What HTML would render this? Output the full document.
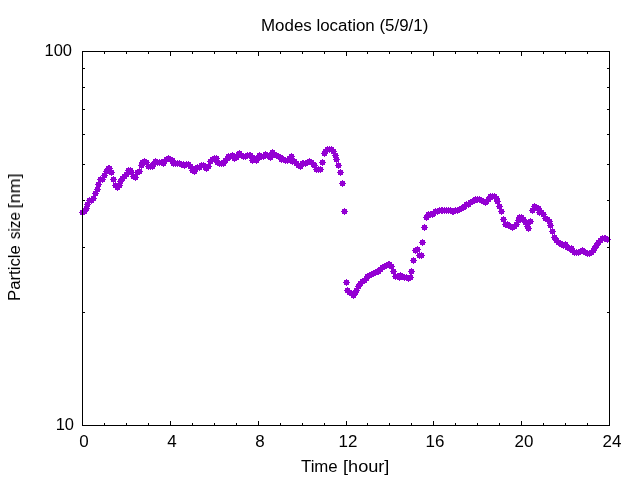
<!DOCTYPE html>
<html><head><meta charset="utf-8"><title>Modes location</title>
<style>
html,body{margin:0;padding:0;background:#fff;}
body{width:640px;height:480px;position:relative;overflow:hidden;font-family:"Liberation Sans",sans-serif;}
#f div{position:absolute;}
.t{position:absolute;font-size:16px;line-height:18px;color:#000;white-space:nowrap;will-change:transform;-webkit-font-smoothing:antialiased;}
.xt{width:60px;text-align:center;transform:scaleX(1.06);}
.yt{transform-origin:100% 0;transform:scaleX(1.03);}
</style></head><body>
<svg width="640" height="480" viewBox="0 0 640 480" shape-rendering="crispEdges" style="position:absolute;left:0;top:0"><path fill="#9400D3" d="M80 210h5v5h-5zM79 212h7v1h-7zM82 209h1v7h-1zM82 209h5v5h-5zM81 211h7v1h-7zM84 208h1v7h-1zM84 206h5v5h-5zM83 208h7v1h-7zM86 205h1v7h-1zM85 202h5v5h-5zM84 204h7v1h-7zM87 201h1v7h-1zM87 198h5v5h-5zM86 200h7v1h-7zM89 197h1v7h-1zM89 198h5v5h-5zM88 200h7v1h-7zM91 197h1v7h-1zM91 196h5v5h-5zM90 198h7v1h-7zM93 195h1v7h-1zM93 191h5v5h-5zM92 193h7v1h-7zM95 190h1v7h-1zM95 187h5v5h-5zM94 189h7v1h-7zM97 186h1v7h-1zM96 182h5v5h-5zM95 184h7v1h-7zM98 181h1v7h-1zM98 177h5v5h-5zM97 179h7v1h-7zM100 176h1v7h-1zM100 177h5v5h-5zM99 179h7v1h-7zM102 176h1v7h-1zM102 173h5v5h-5zM101 175h7v1h-7zM104 172h1v7h-1zM104 169h5v5h-5zM103 171h7v1h-7zM106 168h1v7h-1zM106 166h5v5h-5zM105 168h7v1h-7zM108 165h1v7h-1zM107 166h5v5h-5zM106 168h7v1h-7zM109 165h1v7h-1zM109 170h5v5h-5zM108 172h7v1h-7zM111 169h1v7h-1zM111 177h5v5h-5zM110 179h7v1h-7zM113 176h1v7h-1zM113 183h5v5h-5zM112 185h7v1h-7zM115 182h1v7h-1zM115 185h5v5h-5zM114 187h7v1h-7zM117 184h1v7h-1zM117 183h5v5h-5zM116 185h7v1h-7zM119 182h1v7h-1zM118 179h5v5h-5zM117 181h7v1h-7zM120 178h1v7h-1zM120 176h5v5h-5zM119 178h7v1h-7zM122 175h1v7h-1zM122 174h5v5h-5zM121 176h7v1h-7zM124 173h1v7h-1zM124 172h5v5h-5zM123 174h7v1h-7zM126 171h1v7h-1zM126 168h5v5h-5zM125 170h7v1h-7zM128 167h1v7h-1zM128 168h5v5h-5zM127 170h7v1h-7zM130 167h1v7h-1zM129 170h5v5h-5zM128 172h7v1h-7zM131 169h1v7h-1zM131 174h5v5h-5zM130 176h7v1h-7zM133 173h1v7h-1zM133 175h5v5h-5zM132 177h7v1h-7zM135 174h1v7h-1zM135 170h5v5h-5zM134 172h7v1h-7zM137 169h1v7h-1zM137 169h5v5h-5zM136 171h7v1h-7zM139 168h1v7h-1zM139 163h5v5h-5zM138 165h7v1h-7zM141 162h1v7h-1zM140 160h5v5h-5zM139 162h7v1h-7zM142 159h1v7h-1zM142 159h5v5h-5zM141 161h7v1h-7zM144 158h1v7h-1zM144 160h5v5h-5zM143 162h7v1h-7zM146 159h1v7h-1zM146 164h5v5h-5zM145 166h7v1h-7zM148 163h1v7h-1zM148 164h5v5h-5zM147 166h7v1h-7zM150 163h1v7h-1zM150 164h5v5h-5zM149 166h7v1h-7zM152 163h1v7h-1zM151 162h5v5h-5zM150 164h7v1h-7zM153 161h1v7h-1zM153 159h5v5h-5zM152 161h7v1h-7zM155 158h1v7h-1zM155 160h5v5h-5zM154 162h7v1h-7zM157 159h1v7h-1zM157 160h5v5h-5zM156 162h7v1h-7zM159 159h1v7h-1zM159 160h5v5h-5zM158 162h7v1h-7zM161 159h1v7h-1zM161 161h5v5h-5zM160 163h7v1h-7zM163 160h1v7h-1zM162 159h5v5h-5zM161 161h7v1h-7zM164 158h1v7h-1zM164 157h5v5h-5zM163 159h7v1h-7zM166 156h1v7h-1zM166 156h5v5h-5zM165 158h7v1h-7zM168 155h1v7h-1zM168 157h5v5h-5zM167 159h7v1h-7zM170 156h1v7h-1zM170 158h5v5h-5zM169 160h7v1h-7zM172 157h1v7h-1zM171 161h5v5h-5zM170 163h7v1h-7zM173 160h1v7h-1zM173 161h5v5h-5zM172 163h7v1h-7zM175 160h1v7h-1zM175 161h5v5h-5zM174 163h7v1h-7zM177 160h1v7h-1zM177 161h5v5h-5zM176 163h7v1h-7zM179 160h1v7h-1zM179 162h5v5h-5zM178 164h7v1h-7zM181 161h1v7h-1zM181 162h5v5h-5zM180 164h7v1h-7zM183 161h1v7h-1zM182 163h5v5h-5zM181 165h7v1h-7zM184 162h1v7h-1zM184 162h5v5h-5zM183 164h7v1h-7zM186 161h1v7h-1zM186 162h5v5h-5zM185 164h7v1h-7zM188 161h1v7h-1zM188 164h5v5h-5zM187 166h7v1h-7zM190 163h1v7h-1zM190 168h5v5h-5zM189 170h7v1h-7zM192 167h1v7h-1zM192 169h5v5h-5zM191 171h7v1h-7zM194 168h1v7h-1zM193 166h5v5h-5zM192 168h7v1h-7zM195 165h1v7h-1zM195 165h5v5h-5zM194 167h7v1h-7zM197 164h1v7h-1zM197 165h5v5h-5zM196 167h7v1h-7zM199 164h1v7h-1zM199 163h5v5h-5zM198 165h7v1h-7zM201 162h1v7h-1zM201 163h5v5h-5zM200 165h7v1h-7zM203 162h1v7h-1zM203 165h5v5h-5zM202 167h7v1h-7zM205 164h1v7h-1zM204 166h5v5h-5zM203 168h7v1h-7zM206 165h1v7h-1zM206 164h5v5h-5zM205 166h7v1h-7zM208 163h1v7h-1zM208 159h5v5h-5zM207 161h7v1h-7zM210 158h1v7h-1zM210 157h5v5h-5zM209 159h7v1h-7zM212 156h1v7h-1zM212 156h5v5h-5zM211 158h7v1h-7zM214 155h1v7h-1zM214 156h5v5h-5zM213 158h7v1h-7zM216 155h1v7h-1zM215 160h5v5h-5zM214 162h7v1h-7zM217 159h1v7h-1zM217 161h5v5h-5zM216 163h7v1h-7zM219 160h1v7h-1zM219 161h5v5h-5zM218 163h7v1h-7zM221 160h1v7h-1zM221 161h5v5h-5zM220 163h7v1h-7zM223 160h1v7h-1zM223 158h5v5h-5zM222 160h7v1h-7zM225 157h1v7h-1zM225 156h5v5h-5zM224 158h7v1h-7zM227 155h1v7h-1zM226 154h5v5h-5zM225 156h7v1h-7zM228 153h1v7h-1zM228 154h5v5h-5zM227 156h7v1h-7zM230 153h1v7h-1zM230 153h5v5h-5zM229 155h7v1h-7zM232 152h1v7h-1zM232 156h5v5h-5zM231 158h7v1h-7zM234 155h1v7h-1zM234 155h5v5h-5zM233 157h7v1h-7zM236 154h1v7h-1zM236 152h5v5h-5zM235 154h7v1h-7zM238 151h1v7h-1zM237 151h5v5h-5zM236 153h7v1h-7zM239 150h1v7h-1zM239 153h5v5h-5zM238 155h7v1h-7zM241 152h1v7h-1zM241 154h5v5h-5zM240 156h7v1h-7zM243 153h1v7h-1zM243 154h5v5h-5zM242 156h7v1h-7zM245 153h1v7h-1zM245 153h5v5h-5zM244 155h7v1h-7zM247 152h1v7h-1zM247 153h5v5h-5zM246 155h7v1h-7zM249 152h1v7h-1zM248 153h5v5h-5zM247 155h7v1h-7zM250 152h1v7h-1zM250 158h5v5h-5zM249 160h7v1h-7zM252 157h1v7h-1zM252 156h5v5h-5zM251 158h7v1h-7zM254 155h1v7h-1zM254 158h5v5h-5zM253 160h7v1h-7zM256 157h1v7h-1zM256 155h5v5h-5zM255 157h7v1h-7zM258 154h1v7h-1zM257 153h5v5h-5zM256 155h7v1h-7zM259 152h1v7h-1zM259 154h5v5h-5zM258 156h7v1h-7zM261 153h1v7h-1zM261 154h5v5h-5zM260 156h7v1h-7zM263 153h1v7h-1zM263 152h5v5h-5zM262 154h7v1h-7zM265 151h1v7h-1zM265 153h5v5h-5zM264 155h7v1h-7zM267 152h1v7h-1zM267 153h5v5h-5zM266 155h7v1h-7zM269 152h1v7h-1zM268 155h5v5h-5zM267 157h7v1h-7zM270 154h1v7h-1zM270 150h5v5h-5zM269 152h7v1h-7zM272 149h1v7h-1zM272 152h5v5h-5zM271 154h7v1h-7zM274 151h1v7h-1zM274 153h5v5h-5zM273 155h7v1h-7zM276 152h1v7h-1zM276 154h5v5h-5zM275 156h7v1h-7zM278 153h1v7h-1zM278 155h5v5h-5zM277 157h7v1h-7zM280 154h1v7h-1zM279 157h5v5h-5zM278 159h7v1h-7zM281 156h1v7h-1zM281 157h5v5h-5zM280 159h7v1h-7zM283 156h1v7h-1zM283 158h5v5h-5zM282 160h7v1h-7zM285 157h1v7h-1zM285 158h5v5h-5zM284 160h7v1h-7zM287 157h1v7h-1zM287 156h5v5h-5zM286 158h7v1h-7zM289 155h1v7h-1zM289 154h5v5h-5zM288 156h7v1h-7zM291 153h1v7h-1zM290 159h5v5h-5zM289 161h7v1h-7zM292 158h1v7h-1zM292 159h5v5h-5zM291 161h7v1h-7zM294 158h1v7h-1zM294 161h5v5h-5zM293 163h7v1h-7zM296 160h1v7h-1zM296 163h5v5h-5zM295 165h7v1h-7zM298 162h1v7h-1zM298 164h5v5h-5zM297 166h7v1h-7zM300 163h1v7h-1zM300 161h5v5h-5zM299 163h7v1h-7zM302 160h1v7h-1zM301 161h5v5h-5zM300 163h7v1h-7zM303 160h1v7h-1zM303 161h5v5h-5zM302 163h7v1h-7zM305 160h1v7h-1zM305 160h5v5h-5zM304 162h7v1h-7zM307 159h1v7h-1zM307 159h5v5h-5zM306 161h7v1h-7zM309 158h1v7h-1zM309 160h5v5h-5zM308 162h7v1h-7zM311 159h1v7h-1zM311 162h5v5h-5zM310 164h7v1h-7zM313 161h1v7h-1zM312 163h5v5h-5zM311 165h7v1h-7zM314 162h1v7h-1zM314 167h5v5h-5zM313 169h7v1h-7zM316 166h1v7h-1zM316 167h5v5h-5zM315 169h7v1h-7zM318 166h1v7h-1zM318 167h5v5h-5zM317 169h7v1h-7zM320 166h1v7h-1zM320 160h5v5h-5zM319 162h7v1h-7zM322 159h1v7h-1zM322 151h5v5h-5zM321 153h7v1h-7zM324 150h1v7h-1zM323 149h5v5h-5zM322 151h7v1h-7zM325 148h1v7h-1zM325 147h5v5h-5zM324 149h7v1h-7zM327 146h1v7h-1zM327 147h5v5h-5zM326 149h7v1h-7zM329 146h1v7h-1zM329 147h5v5h-5zM328 149h7v1h-7zM331 146h1v7h-1zM331 149h5v5h-5zM330 151h7v1h-7zM333 148h1v7h-1zM333 153h5v5h-5zM332 155h7v1h-7zM335 152h1v7h-1zM334 157h5v5h-5zM333 159h7v1h-7zM336 156h1v7h-1zM336 163h5v5h-5zM335 165h7v1h-7zM338 162h1v7h-1zM338 170h5v5h-5zM337 172h7v1h-7zM340 169h1v7h-1zM340 181h5v5h-5zM339 183h7v1h-7zM342 180h1v7h-1zM342 209h5v5h-5zM341 211h7v1h-7zM344 208h1v7h-1zM344 280h5v5h-5zM343 282h7v1h-7zM346 279h1v7h-1zM345 288h5v5h-5zM344 290h7v1h-7zM347 287h1v7h-1zM347 290h5v5h-5zM346 292h7v1h-7zM349 289h1v7h-1zM349 291h5v5h-5zM348 293h7v1h-7zM351 290h1v7h-1zM351 293h5v5h-5zM350 295h7v1h-7zM353 292h1v7h-1zM353 290h5v5h-5zM352 292h7v1h-7zM355 289h1v7h-1zM354 288h5v5h-5zM353 290h7v1h-7zM356 287h1v7h-1zM356 284h5v5h-5zM355 286h7v1h-7zM358 283h1v7h-1zM358 281h5v5h-5zM357 283h7v1h-7zM360 280h1v7h-1zM360 279h5v5h-5zM359 281h7v1h-7zM362 278h1v7h-1zM362 278h5v5h-5zM361 280h7v1h-7zM364 277h1v7h-1zM364 276h5v5h-5zM363 278h7v1h-7zM366 275h1v7h-1zM365 274h5v5h-5zM364 276h7v1h-7zM367 273h1v7h-1zM367 273h5v5h-5zM366 275h7v1h-7zM369 272h1v7h-1zM369 272h5v5h-5zM368 274h7v1h-7zM371 271h1v7h-1zM371 271h5v5h-5zM370 273h7v1h-7zM373 270h1v7h-1zM373 270h5v5h-5zM372 272h7v1h-7zM375 269h1v7h-1zM375 269h5v5h-5zM374 271h7v1h-7zM377 268h1v7h-1zM376 269h5v5h-5zM375 271h7v1h-7zM378 268h1v7h-1zM378 267h5v5h-5zM377 269h7v1h-7zM380 266h1v7h-1zM380 265h5v5h-5zM379 267h7v1h-7zM382 264h1v7h-1zM382 264h5v5h-5zM381 266h7v1h-7zM384 263h1v7h-1zM384 263h5v5h-5zM383 265h7v1h-7zM386 262h1v7h-1zM386 262h5v5h-5zM385 264h7v1h-7zM388 261h1v7h-1zM387 262h5v5h-5zM386 264h7v1h-7zM389 261h1v7h-1zM389 264h5v5h-5zM388 266h7v1h-7zM391 263h1v7h-1zM391 269h5v5h-5zM390 271h7v1h-7zM393 268h1v7h-1zM393 274h5v5h-5zM392 276h7v1h-7zM395 273h1v7h-1zM395 274h5v5h-5zM394 276h7v1h-7zM397 273h1v7h-1zM397 275h5v5h-5zM396 277h7v1h-7zM399 274h1v7h-1zM398 273h5v5h-5zM397 275h7v1h-7zM400 272h1v7h-1zM400 274h5v5h-5zM399 276h7v1h-7zM402 273h1v7h-1zM402 275h5v5h-5zM401 277h7v1h-7zM404 274h1v7h-1zM404 275h5v5h-5zM403 277h7v1h-7zM406 274h1v7h-1zM406 276h5v5h-5zM405 278h7v1h-7zM408 275h1v7h-1zM408 275h5v5h-5zM407 277h7v1h-7zM410 274h1v7h-1zM409 269h5v5h-5zM408 271h7v1h-7zM411 268h1v7h-1zM411 258h5v5h-5zM410 260h7v1h-7zM413 257h1v7h-1zM413 248h5v5h-5zM412 250h7v1h-7zM415 247h1v7h-1zM415 247h5v5h-5zM414 249h7v1h-7zM417 246h1v7h-1zM417 253h5v5h-5zM416 255h7v1h-7zM419 252h1v7h-1zM419 253h5v5h-5zM418 255h7v1h-7zM421 252h1v7h-1zM420 240h5v5h-5zM419 242h7v1h-7zM422 239h1v7h-1zM422 225h5v5h-5zM421 227h7v1h-7zM424 224h1v7h-1zM424 215h5v5h-5zM423 217h7v1h-7zM426 214h1v7h-1zM426 212h5v5h-5zM425 214h7v1h-7zM428 211h1v7h-1zM428 212h5v5h-5zM427 214h7v1h-7zM430 211h1v7h-1zM430 212h5v5h-5zM429 214h7v1h-7zM432 211h1v7h-1zM431 211h5v5h-5zM430 213h7v1h-7zM433 210h1v7h-1zM433 209h5v5h-5zM432 211h7v1h-7zM435 208h1v7h-1zM435 209h5v5h-5zM434 211h7v1h-7zM437 208h1v7h-1zM437 208h5v5h-5zM436 210h7v1h-7zM439 207h1v7h-1zM439 208h5v5h-5zM438 210h7v1h-7zM441 207h1v7h-1zM440 208h5v5h-5zM439 210h7v1h-7zM442 207h1v7h-1zM442 208h5v5h-5zM441 210h7v1h-7zM444 207h1v7h-1zM444 208h5v5h-5zM443 210h7v1h-7zM446 207h1v7h-1zM446 208h5v5h-5zM445 210h7v1h-7zM448 207h1v7h-1zM448 208h5v5h-5zM447 210h7v1h-7zM450 207h1v7h-1zM450 209h5v5h-5zM449 211h7v1h-7zM452 208h1v7h-1zM451 209h5v5h-5zM450 211h7v1h-7zM453 208h1v7h-1zM453 208h5v5h-5zM452 210h7v1h-7zM455 207h1v7h-1zM455 208h5v5h-5zM454 210h7v1h-7zM457 207h1v7h-1zM457 207h5v5h-5zM456 209h7v1h-7zM459 206h1v7h-1zM459 206h5v5h-5zM458 208h7v1h-7zM461 205h1v7h-1zM461 205h5v5h-5zM460 207h7v1h-7zM463 204h1v7h-1zM462 204h5v5h-5zM461 206h7v1h-7zM464 203h1v7h-1zM464 202h5v5h-5zM463 204h7v1h-7zM466 201h1v7h-1zM466 202h5v5h-5zM465 204h7v1h-7zM468 201h1v7h-1zM468 200h5v5h-5zM467 202h7v1h-7zM470 199h1v7h-1zM470 199h5v5h-5zM469 201h7v1h-7zM472 198h1v7h-1zM472 198h5v5h-5zM471 200h7v1h-7zM474 197h1v7h-1zM473 197h5v5h-5zM472 199h7v1h-7zM475 196h1v7h-1zM475 197h5v5h-5zM474 199h7v1h-7zM477 196h1v7h-1zM477 197h5v5h-5zM476 199h7v1h-7zM479 196h1v7h-1zM479 198h5v5h-5zM478 200h7v1h-7zM481 197h1v7h-1zM481 199h5v5h-5zM480 201h7v1h-7zM483 198h1v7h-1zM483 200h5v5h-5zM482 202h7v1h-7zM485 199h1v7h-1zM484 199h5v5h-5zM483 201h7v1h-7zM486 198h1v7h-1zM486 197h5v5h-5zM485 199h7v1h-7zM488 196h1v7h-1zM488 194h5v5h-5zM487 196h7v1h-7zM490 193h1v7h-1zM490 194h5v5h-5zM489 196h7v1h-7zM492 193h1v7h-1zM492 194h5v5h-5zM491 196h7v1h-7zM494 193h1v7h-1zM494 196h5v5h-5zM493 198h7v1h-7zM496 195h1v7h-1zM495 199h5v5h-5zM494 201h7v1h-7zM497 198h1v7h-1zM497 204h5v5h-5zM496 206h7v1h-7zM499 203h1v7h-1zM499 209h5v5h-5zM498 211h7v1h-7zM501 208h1v7h-1zM501 217h5v5h-5zM500 219h7v1h-7zM503 216h1v7h-1zM503 222h5v5h-5zM502 224h7v1h-7zM505 221h1v7h-1zM505 222h5v5h-5zM504 224h7v1h-7zM507 221h1v7h-1zM506 223h5v5h-5zM505 225h7v1h-7zM508 222h1v7h-1zM508 224h5v5h-5zM507 226h7v1h-7zM510 223h1v7h-1zM510 225h5v5h-5zM509 227h7v1h-7zM512 224h1v7h-1zM512 224h5v5h-5zM511 226h7v1h-7zM514 223h1v7h-1zM514 222h5v5h-5zM513 224h7v1h-7zM516 221h1v7h-1zM516 218h5v5h-5zM515 220h7v1h-7zM518 217h1v7h-1zM517 215h5v5h-5zM516 217h7v1h-7zM519 214h1v7h-1zM519 215h5v5h-5zM518 217h7v1h-7zM521 214h1v7h-1zM521 217h5v5h-5zM520 219h7v1h-7zM523 216h1v7h-1zM523 220h5v5h-5zM522 222h7v1h-7zM525 219h1v7h-1zM525 224h5v5h-5zM524 226h7v1h-7zM527 223h1v7h-1zM526 226h5v5h-5zM525 228h7v1h-7zM528 225h1v7h-1zM528 219h5v5h-5zM527 221h7v1h-7zM530 218h1v7h-1zM530 208h5v5h-5zM529 210h7v1h-7zM532 207h1v7h-1zM532 204h5v5h-5zM531 206h7v1h-7zM534 203h1v7h-1zM534 205h5v5h-5zM533 207h7v1h-7zM536 204h1v7h-1zM536 206h5v5h-5zM535 208h7v1h-7zM538 205h1v7h-1zM537 210h5v5h-5zM536 212h7v1h-7zM539 209h1v7h-1zM539 210h5v5h-5zM538 212h7v1h-7zM541 209h1v7h-1zM541 212h5v5h-5zM540 214h7v1h-7zM543 211h1v7h-1zM543 216h5v5h-5zM542 218h7v1h-7zM545 215h1v7h-1zM545 217h5v5h-5zM544 219h7v1h-7zM547 216h1v7h-1zM547 219h5v5h-5zM546 221h7v1h-7zM549 218h1v7h-1zM548 223h5v5h-5zM547 225h7v1h-7zM550 222h1v7h-1zM550 229h5v5h-5zM549 231h7v1h-7zM552 228h1v7h-1zM552 235h5v5h-5zM551 237h7v1h-7zM554 234h1v7h-1zM554 238h5v5h-5zM553 240h7v1h-7zM556 237h1v7h-1zM556 240h5v5h-5zM555 242h7v1h-7zM558 239h1v7h-1zM558 241h5v5h-5zM557 243h7v1h-7zM560 240h1v7h-1zM559 242h5v5h-5zM558 244h7v1h-7zM561 241h1v7h-1zM561 243h5v5h-5zM560 245h7v1h-7zM563 242h1v7h-1zM563 242h5v5h-5zM562 244h7v1h-7zM565 241h1v7h-1zM565 245h5v5h-5zM564 247h7v1h-7zM567 244h1v7h-1zM567 246h5v5h-5zM566 248h7v1h-7zM569 245h1v7h-1zM569 246h5v5h-5zM568 248h7v1h-7zM571 245h1v7h-1zM570 248h5v5h-5zM569 250h7v1h-7zM572 247h1v7h-1zM572 250h5v5h-5zM571 252h7v1h-7zM574 249h1v7h-1zM574 250h5v5h-5zM573 252h7v1h-7zM576 249h1v7h-1zM576 250h5v5h-5zM575 252h7v1h-7zM578 249h1v7h-1zM578 249h5v5h-5zM577 251h7v1h-7zM580 248h1v7h-1zM580 248h5v5h-5zM579 250h7v1h-7zM582 247h1v7h-1zM581 249h5v5h-5zM580 251h7v1h-7zM583 248h1v7h-1zM583 250h5v5h-5zM582 252h7v1h-7zM585 249h1v7h-1zM585 251h5v5h-5zM584 253h7v1h-7zM587 250h1v7h-1zM587 251h5v5h-5zM586 253h7v1h-7zM589 250h1v7h-1zM589 250h5v5h-5zM588 252h7v1h-7zM591 249h1v7h-1zM591 248h5v5h-5zM590 250h7v1h-7zM593 247h1v7h-1zM592 246h5v5h-5zM591 248h7v1h-7zM594 245h1v7h-1zM594 243h5v5h-5zM593 245h7v1h-7zM596 242h1v7h-1zM596 240h5v5h-5zM595 242h7v1h-7zM598 239h1v7h-1zM598 238h5v5h-5zM597 240h7v1h-7zM600 237h1v7h-1zM600 236h5v5h-5zM599 238h7v1h-7zM602 235h1v7h-1zM602 236h5v5h-5zM601 238h7v1h-7zM604 235h1v7h-1zM603 236h5v5h-5zM602 238h7v1h-7zM605 235h1v7h-1zM605 237h5v5h-5zM604 239h7v1h-7zM607 236h1v7h-1z"/></svg>
<div id="f"><div style="left:82px;top:51px;width:528px;height:1px;background:#000"></div><div style="left:82px;top:425px;width:528px;height:1px;background:#000"></div><div style="left:82px;top:51px;width:1px;height:375px;background:#000"></div><div style="left:609px;top:51px;width:1px;height:375px;background:#000"></div><div style="left:82px;top:421px;width:1px;height:4px;background:#000"></div><div style="left:82px;top:52px;width:1px;height:4px;background:#000"></div><div style="left:104px;top:423px;width:1px;height:2px;background:#000"></div><div style="left:104px;top:52px;width:1px;height:2px;background:#000"></div><div style="left:126px;top:423px;width:1px;height:2px;background:#000"></div><div style="left:126px;top:52px;width:1px;height:2px;background:#000"></div><div style="left:148px;top:423px;width:1px;height:2px;background:#000"></div><div style="left:148px;top:52px;width:1px;height:2px;background:#000"></div><div style="left:170px;top:421px;width:1px;height:4px;background:#000"></div><div style="left:170px;top:52px;width:1px;height:4px;background:#000"></div><div style="left:192px;top:423px;width:1px;height:2px;background:#000"></div><div style="left:192px;top:52px;width:1px;height:2px;background:#000"></div><div style="left:214px;top:423px;width:1px;height:2px;background:#000"></div><div style="left:214px;top:52px;width:1px;height:2px;background:#000"></div><div style="left:236px;top:423px;width:1px;height:2px;background:#000"></div><div style="left:236px;top:52px;width:1px;height:2px;background:#000"></div><div style="left:258px;top:421px;width:1px;height:4px;background:#000"></div><div style="left:258px;top:52px;width:1px;height:4px;background:#000"></div><div style="left:280px;top:423px;width:1px;height:2px;background:#000"></div><div style="left:280px;top:52px;width:1px;height:2px;background:#000"></div><div style="left:302px;top:423px;width:1px;height:2px;background:#000"></div><div style="left:302px;top:52px;width:1px;height:2px;background:#000"></div><div style="left:324px;top:423px;width:1px;height:2px;background:#000"></div><div style="left:324px;top:52px;width:1px;height:2px;background:#000"></div><div style="left:346px;top:421px;width:1px;height:4px;background:#000"></div><div style="left:346px;top:52px;width:1px;height:4px;background:#000"></div><div style="left:367px;top:423px;width:1px;height:2px;background:#000"></div><div style="left:367px;top:52px;width:1px;height:2px;background:#000"></div><div style="left:389px;top:423px;width:1px;height:2px;background:#000"></div><div style="left:389px;top:52px;width:1px;height:2px;background:#000"></div><div style="left:411px;top:423px;width:1px;height:2px;background:#000"></div><div style="left:411px;top:52px;width:1px;height:2px;background:#000"></div><div style="left:433px;top:421px;width:1px;height:4px;background:#000"></div><div style="left:433px;top:52px;width:1px;height:4px;background:#000"></div><div style="left:455px;top:423px;width:1px;height:2px;background:#000"></div><div style="left:455px;top:52px;width:1px;height:2px;background:#000"></div><div style="left:477px;top:423px;width:1px;height:2px;background:#000"></div><div style="left:477px;top:52px;width:1px;height:2px;background:#000"></div><div style="left:499px;top:423px;width:1px;height:2px;background:#000"></div><div style="left:499px;top:52px;width:1px;height:2px;background:#000"></div><div style="left:521px;top:421px;width:1px;height:4px;background:#000"></div><div style="left:521px;top:52px;width:1px;height:4px;background:#000"></div><div style="left:543px;top:423px;width:1px;height:2px;background:#000"></div><div style="left:543px;top:52px;width:1px;height:2px;background:#000"></div><div style="left:565px;top:423px;width:1px;height:2px;background:#000"></div><div style="left:565px;top:52px;width:1px;height:2px;background:#000"></div><div style="left:587px;top:423px;width:1px;height:2px;background:#000"></div><div style="left:587px;top:52px;width:1px;height:2px;background:#000"></div><div style="left:609px;top:421px;width:1px;height:4px;background:#000"></div><div style="left:609px;top:52px;width:1px;height:4px;background:#000"></div><div style="left:83px;top:425px;width:4px;height:1px;background:#000"></div><div style="left:605px;top:425px;width:4px;height:1px;background:#000"></div><div style="left:83px;top:312px;width:2px;height:1px;background:#000"></div><div style="left:607px;top:312px;width:2px;height:1px;background:#000"></div><div style="left:83px;top:247px;width:2px;height:1px;background:#000"></div><div style="left:607px;top:247px;width:2px;height:1px;background:#000"></div><div style="left:83px;top:200px;width:2px;height:1px;background:#000"></div><div style="left:607px;top:200px;width:2px;height:1px;background:#000"></div><div style="left:83px;top:164px;width:2px;height:1px;background:#000"></div><div style="left:607px;top:164px;width:2px;height:1px;background:#000"></div><div style="left:83px;top:134px;width:2px;height:1px;background:#000"></div><div style="left:607px;top:134px;width:2px;height:1px;background:#000"></div><div style="left:83px;top:109px;width:2px;height:1px;background:#000"></div><div style="left:607px;top:109px;width:2px;height:1px;background:#000"></div><div style="left:83px;top:87px;width:2px;height:1px;background:#000"></div><div style="left:607px;top:87px;width:2px;height:1px;background:#000"></div><div style="left:83px;top:68px;width:2px;height:1px;background:#000"></div><div style="left:607px;top:68px;width:2px;height:1px;background:#000"></div><div style="left:83px;top:51px;width:4px;height:1px;background:#000"></div><div style="left:605px;top:51px;width:4px;height:1px;background:#000"></div></div>
<div class="t" id="title" style="left:261px;top:17px;transform-origin:0 0;transform:scaleX(1.057)">Modes location (5/9/1)</div>
<div class="t" id="xl" style="left:301px;top:458px;transform-origin:0 0;transform:scaleX(1.05)">Time</div>
<div class="t" id="xl2" style="left:342.5px;top:458px;transform-origin:0 0;transform:scaleX(1.134)">[hour]</div>
<div class="t" id="yl" style="left:0;top:0;transform-origin:0 0;transform:translate(6px,301px) rotate(-90deg) scaleX(1.048);">Particle</div>
<div class="t" id="yl2" style="left:0;top:0;transform-origin:0 0;transform:translate(6px,239.2px) rotate(-90deg) scaleX(0.954);">size</div>
<div class="t" id="yl3" style="left:0;top:0;transform-origin:0 0;transform:translate(6px,208.4px) rotate(-90deg) scaleX(1.122);">[nm]</div>
<div class="t yt" style="left:12px;width:60px;text-align:right;top:42px;">100</div>
<div class="t yt" style="left:13.5px;width:60px;text-align:right;top:416px;">10</div>
<div class="t xt" style="left:53.6px;top:433px;">0</div>
<div class="t xt" style="left:141.6px;top:433px;">4</div>
<div class="t xt" style="left:229.5px;top:433px;">8</div>
<div class="t xt" style="left:318px;top:433px;">12</div>
<div class="t xt" style="left:405px;top:433px;">16</div>
<div class="t xt" style="left:493.8px;top:433px;">20</div>
<div class="t xt" style="left:581.8px;top:433px;">24</div>
</body></html>
